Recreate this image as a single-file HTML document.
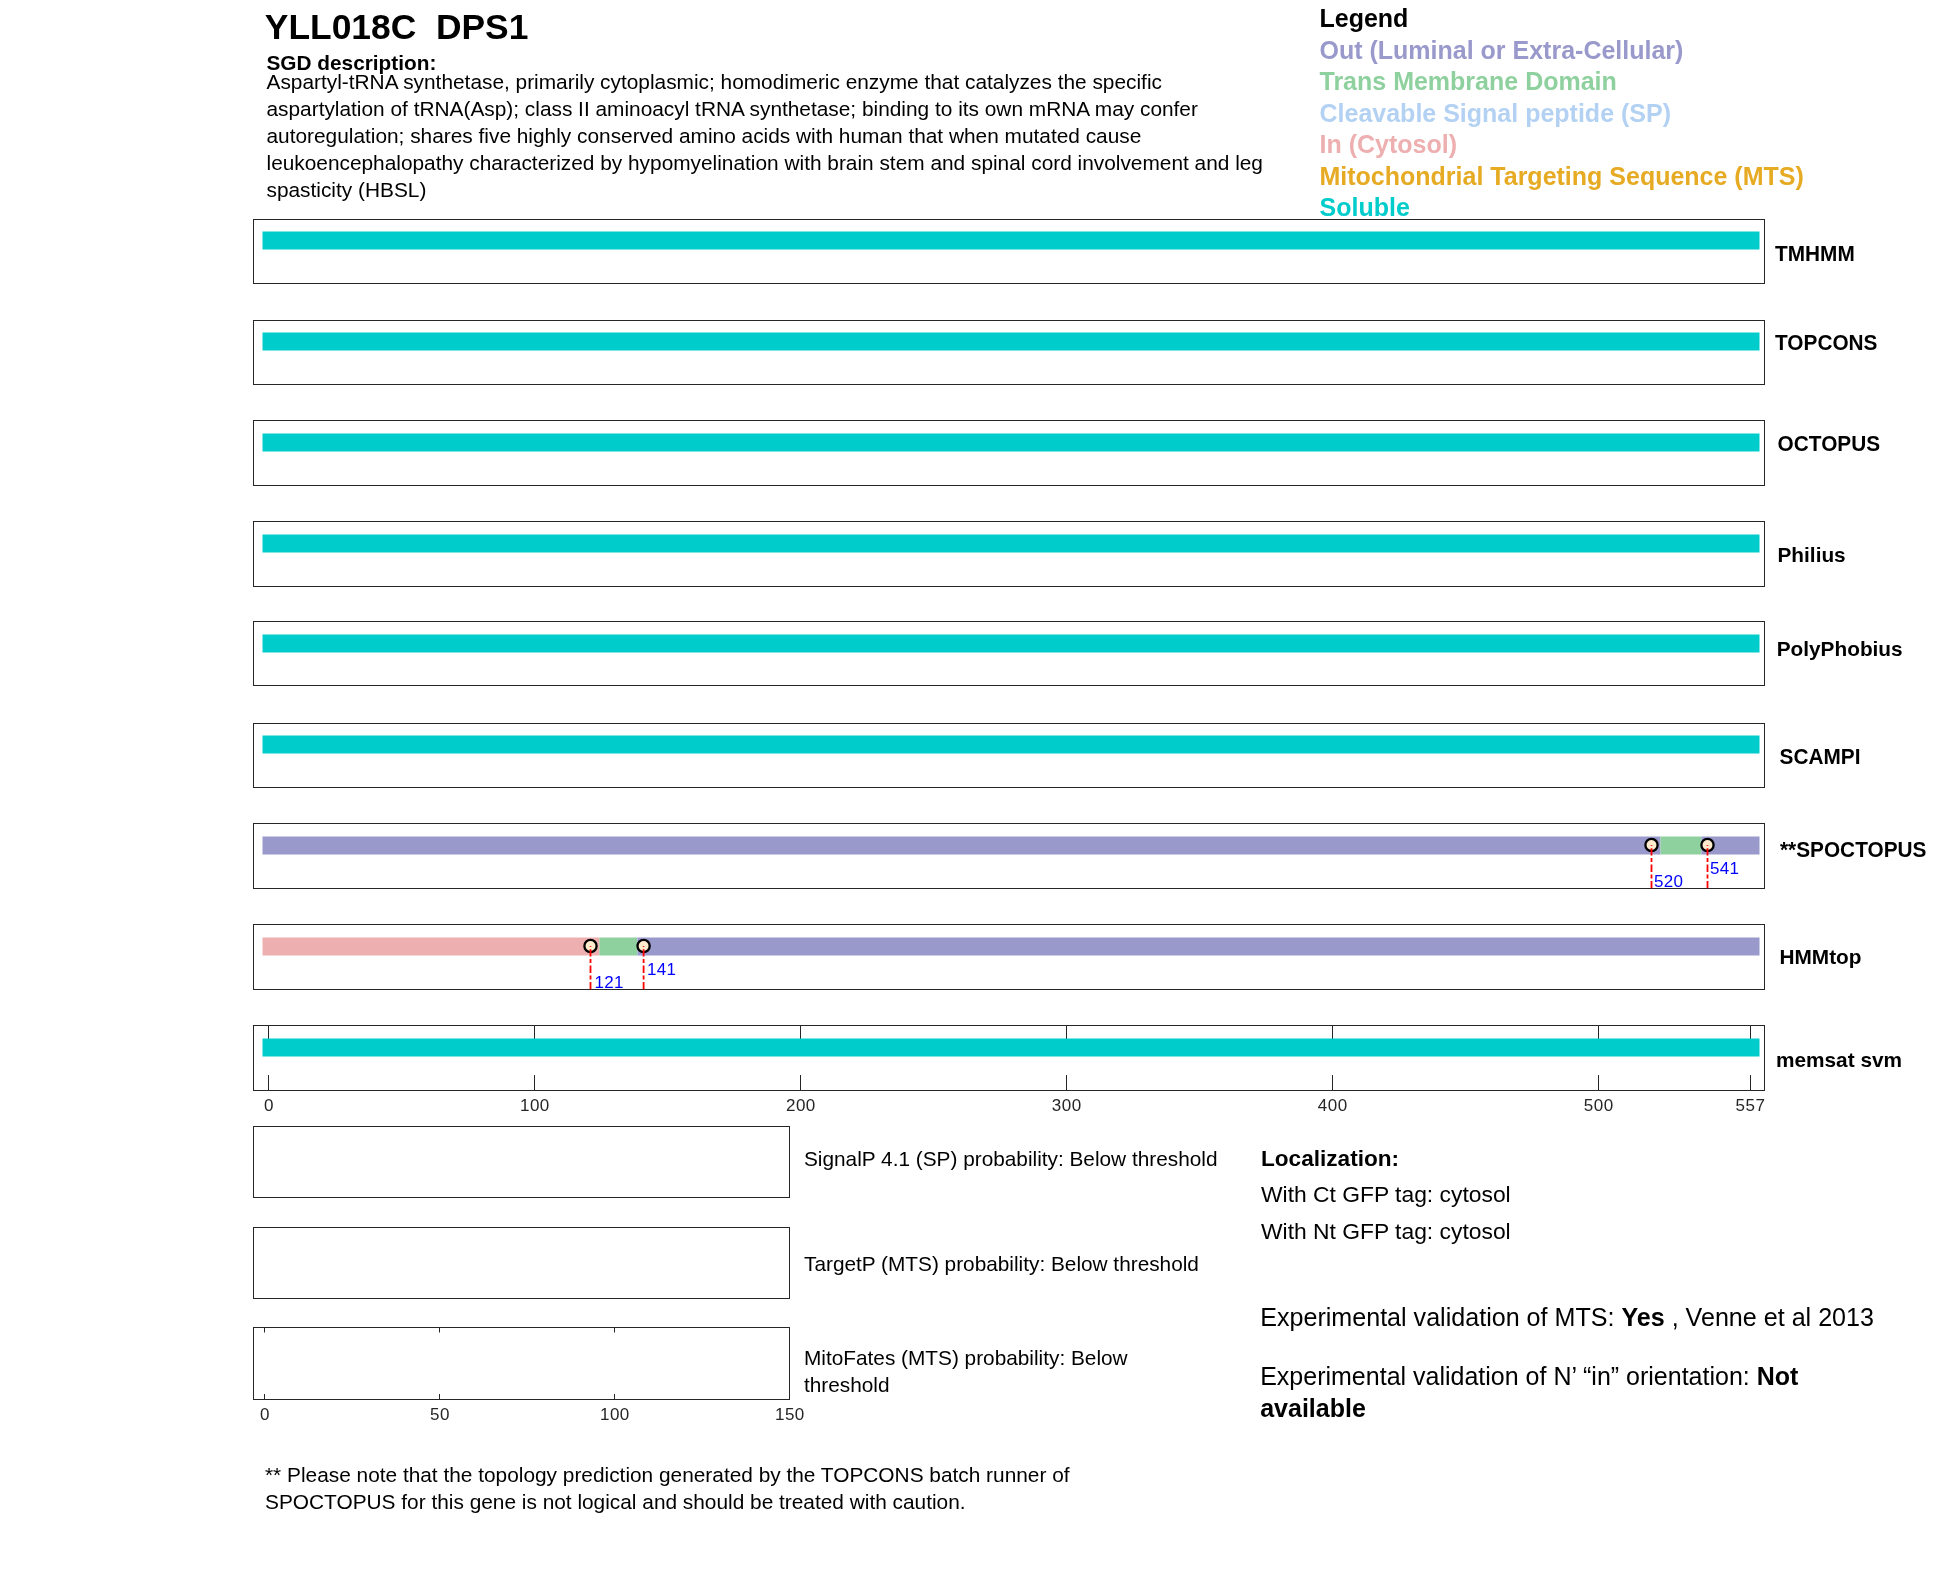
<!DOCTYPE html>
<html><head><meta charset="utf-8"><style>
html,body{margin:0;padding:0;background:#fff;width:1950px;height:1573px;overflow:hidden}
svg{display:block;will-change:transform;font-family:"Liberation Sans",sans-serif}
.b{font-weight:bold}
</style></head><body>
<svg width="1950" height="1573" viewBox="0 0 1950 1573">
<text x="264.8" y="39" font-size="35.4" fill="#000" font-weight="bold">YLL018C&#160;&#160;DPS1</text>
<text x="266.5" y="69.5" font-size="20.8" fill="#000" font-weight="bold">SGD description:</text>
<text x="266.5" y="88.6" font-size="20.85" fill="#000">Aspartyl-tRNA synthetase, primarily cytoplasmic; homodimeric enzyme that catalyzes the specific</text>
<text x="266.5" y="115.6" font-size="20.85" fill="#000">aspartylation of tRNA(Asp); class II aminoacyl tRNA synthetase; binding to its own mRNA may confer</text>
<text x="266.5" y="142.6" font-size="20.85" fill="#000">autoregulation; shares five highly conserved amino acids with human that when mutated cause</text>
<text x="266.5" y="169.6" font-size="20.85" fill="#000">leukoencephalopathy characterized by hypomyelination with brain stem and spinal cord involvement and leg</text>
<text x="266.5" y="196.6" font-size="20.85" fill="#000">spasticity (HBSL)</text>
<text x="1319.5" y="27.2" font-size="25" fill="#000000" font-weight="bold">Legend</text>
<text x="1319.5" y="58.7" font-size="25" fill="#9999CC" font-weight="bold">Out (Luminal or Extra-Cellular)</text>
<text x="1319.5" y="90.2" font-size="25" fill="#8FD19E" font-weight="bold">Trans Membrane Domain</text>
<text x="1319.5" y="121.7" font-size="25" fill="#B3D1F2" font-weight="bold">Cleavable Signal peptide (SP)</text>
<text x="1319.5" y="153.2" font-size="25" fill="#EDAFAF" font-weight="bold">In (Cytosol)</text>
<text x="1319.5" y="184.7" font-size="25" fill="#E6AA23" font-weight="bold">Mitochondrial Targeting Sequence (MTS)</text>
<text x="1319.5" y="216.2" font-size="25" fill="#00CCCC" font-weight="bold">Soluble</text>
<rect x="262.5" y="231.5" width="1497.0" height="18.0" fill="#00CCCC"/>
<rect x="253.5" y="219.5" width="1511" height="64" fill="none" stroke="#262626" stroke-width="1"/>
<text transform="matrix(1 0 0 1.04 1775 261)" font-size="20.8" fill="#000" font-weight="bold">TMHMM</text>
<rect x="262.5" y="332.5" width="1497.0" height="18.0" fill="#00CCCC"/>
<rect x="253.5" y="320.5" width="1511" height="64" fill="none" stroke="#262626" stroke-width="1"/>
<text transform="matrix(1 0 0 1.04 1775 350)" font-size="20.8" fill="#000" font-weight="bold">TOPCONS</text>
<rect x="262.5" y="433.5" width="1497.0" height="18.0" fill="#00CCCC"/>
<rect x="253.5" y="420.5" width="1511" height="65" fill="none" stroke="#262626" stroke-width="1"/>
<text transform="matrix(1 0 0 1.04 1777.6 451.1)" font-size="20.8" fill="#000" font-weight="bold">OCTOPUS</text>
<rect x="262.5" y="534.5" width="1497.0" height="18.0" fill="#00CCCC"/>
<rect x="253.5" y="521.5" width="1511" height="65" fill="none" stroke="#262626" stroke-width="1"/>
<text x="1777.5" y="561.8" font-size="20.8" fill="#000" font-weight="bold">Philius</text>
<rect x="262.5" y="634.5" width="1497.0" height="18.0" fill="#00CCCC"/>
<rect x="253.5" y="621.5" width="1511" height="64" fill="none" stroke="#262626" stroke-width="1"/>
<text x="1776.7" y="655.5" font-size="20.8" fill="#000" font-weight="bold">PolyPhobius</text>
<rect x="262.5" y="735.5" width="1497.0" height="18.0" fill="#00CCCC"/>
<rect x="253.5" y="723.5" width="1511" height="64" fill="none" stroke="#262626" stroke-width="1"/>
<text transform="matrix(1 0 0 1.04 1779.6 764)" font-size="20.8" fill="#000" font-weight="bold">SCAMPI</text>
<rect x="262.5" y="836.5" width="1398.0" height="18.0" fill="#9999CC"/>
<rect x="1660.5" y="836.5" width="40.9" height="18.0" fill="#8FD19E"/>
<rect x="1701.4" y="836.5" width="58.1" height="18.0" fill="#9999CC"/>
<rect x="253.5" y="823.5" width="1511" height="65" fill="none" stroke="#262626" stroke-width="1"/>
<text transform="matrix(1 0 0 1.04 1780 856.8)" font-size="20.8" fill="#000" font-weight="bold">**SPOCTOPUS</text>
<rect x="262.5" y="937.5" width="336.9" height="18.0" fill="#EDAFAF"/>
<rect x="599.4" y="937.5" width="37.9" height="18.0" fill="#8FD19E"/>
<rect x="637.4" y="937.5" width="1122.1" height="18.0" fill="#9999CC"/>
<rect x="253.5" y="924.5" width="1511" height="65" fill="none" stroke="#262626" stroke-width="1"/>
<text x="1779.5" y="963.6" font-size="20.8" fill="#000" font-weight="bold">HMMtop</text>
<line x1="268.5" y1="1025" x2="268.5" y2="1040" stroke="#262626" stroke-width="1"/>
<line x1="268.5" y1="1091" x2="268.5" y2="1075" stroke="#262626" stroke-width="1"/>
<line x1="534.5" y1="1025" x2="534.5" y2="1040" stroke="#262626" stroke-width="1"/>
<line x1="534.5" y1="1091" x2="534.5" y2="1075" stroke="#262626" stroke-width="1"/>
<line x1="800.5" y1="1025" x2="800.5" y2="1040" stroke="#262626" stroke-width="1"/>
<line x1="800.5" y1="1091" x2="800.5" y2="1075" stroke="#262626" stroke-width="1"/>
<line x1="1066.5" y1="1025" x2="1066.5" y2="1040" stroke="#262626" stroke-width="1"/>
<line x1="1066.5" y1="1091" x2="1066.5" y2="1075" stroke="#262626" stroke-width="1"/>
<line x1="1332.5" y1="1025" x2="1332.5" y2="1040" stroke="#262626" stroke-width="1"/>
<line x1="1332.5" y1="1091" x2="1332.5" y2="1075" stroke="#262626" stroke-width="1"/>
<line x1="1598.5" y1="1025" x2="1598.5" y2="1040" stroke="#262626" stroke-width="1"/>
<line x1="1598.5" y1="1091" x2="1598.5" y2="1075" stroke="#262626" stroke-width="1"/>
<line x1="1750.5" y1="1025" x2="1750.5" y2="1040" stroke="#262626" stroke-width="1"/>
<line x1="1750.5" y1="1091" x2="1750.5" y2="1075" stroke="#262626" stroke-width="1"/>
<rect x="262.5" y="1038.5" width="1497.0" height="18.0" fill="#00CCCC"/>
<rect x="253.5" y="1025.5" width="1511" height="65" fill="none" stroke="#262626" stroke-width="1"/>
<text x="1776" y="1067.1" font-size="20.8" fill="#000" font-weight="bold">memsat svm</text>
<circle cx="1651.5" cy="845.0" r="6.1" fill="#FFEBCD" stroke="#000" stroke-width="2.3"/>
<line x1="1651.5" y1="888.3" x2="1651.5" y2="845.0999999999999" stroke="#FF0000" stroke-width="1.8" stroke-dasharray="7.3 2.5 4 2.6"/>
<text x="1654" y="886.8" font-size="17" fill="#0000FF" letter-spacing="0.3">520</text>
<circle cx="1707.5" cy="845.0" r="6.1" fill="#FFEBCD" stroke="#000" stroke-width="2.3"/>
<line x1="1707.5" y1="888.3" x2="1707.5" y2="845.0999999999999" stroke="#FF0000" stroke-width="1.8" stroke-dasharray="7.3 2.5 4 2.6"/>
<text x="1710" y="873.8" font-size="17" fill="#0000FF" letter-spacing="0.3">541</text>
<circle cx="590.5" cy="946.0" r="6.1" fill="#FFEBCD" stroke="#000" stroke-width="2.3"/>
<line x1="590.5" y1="989.3" x2="590.5" y2="946.0999999999999" stroke="#FF0000" stroke-width="1.8" stroke-dasharray="7.3 2.5 4 2.6"/>
<text x="594.5" y="987.5" font-size="17" fill="#0000FF" letter-spacing="0.3">121</text>
<circle cx="643.6" cy="946.0" r="6.1" fill="#FFEBCD" stroke="#000" stroke-width="2.3"/>
<line x1="643.6" y1="989.3" x2="643.6" y2="946.0999999999999" stroke="#FF0000" stroke-width="1.8" stroke-dasharray="7.3 2.5 4 2.6"/>
<text x="647" y="974.6" font-size="17" fill="#0000FF" letter-spacing="0.3">141</text>
<text x="268.9" y="1111" font-size="17" fill="#262626" text-anchor="middle" letter-spacing="0.5">0</text>
<text x="534.9" y="1111" font-size="17" fill="#262626" text-anchor="middle" letter-spacing="0.5">100</text>
<text x="800.9" y="1111" font-size="17" fill="#262626" text-anchor="middle" letter-spacing="0.5">200</text>
<text x="1066.8" y="1111" font-size="17" fill="#262626" text-anchor="middle" letter-spacing="0.5">300</text>
<text x="1332.8" y="1111" font-size="17" fill="#262626" text-anchor="middle" letter-spacing="0.5">400</text>
<text x="1598.8" y="1111" font-size="17" fill="#262626" text-anchor="middle" letter-spacing="0.5">500</text>
<text x="1750.5" y="1111" font-size="17" fill="#262626" text-anchor="middle" letter-spacing="0.5">557</text>
<rect x="253.5" y="1126.5" width="536" height="71" fill="none" stroke="#262626" stroke-width="1"/>
<rect x="253.5" y="1227.5" width="536" height="71" fill="none" stroke="#262626" stroke-width="1"/>
<rect x="253.5" y="1327.5" width="536" height="72" fill="none" stroke="#262626" stroke-width="1"/>
<line x1="264.5" y1="1327" x2="264.5" y2="1332.5" stroke="#262626" stroke-width="1"/>
<line x1="264.5" y1="1400" x2="264.5" y2="1394" stroke="#262626" stroke-width="1"/>
<text x="264.9" y="1419.5" font-size="17" fill="#262626" text-anchor="middle" letter-spacing="0.5">0</text>
<line x1="439.5" y1="1327" x2="439.5" y2="1332.5" stroke="#262626" stroke-width="1"/>
<line x1="439.5" y1="1400" x2="439.5" y2="1394" stroke="#262626" stroke-width="1"/>
<text x="439.9" y="1419.5" font-size="17" fill="#262626" text-anchor="middle" letter-spacing="0.5">50</text>
<line x1="614.5" y1="1327" x2="614.5" y2="1332.5" stroke="#262626" stroke-width="1"/>
<line x1="614.5" y1="1400" x2="614.5" y2="1394" stroke="#262626" stroke-width="1"/>
<text x="614.9" y="1419.5" font-size="17" fill="#262626" text-anchor="middle" letter-spacing="0.5">100</text>
<line x1="789.5" y1="1327" x2="789.5" y2="1332.5" stroke="#262626" stroke-width="1"/>
<line x1="789.5" y1="1400" x2="789.5" y2="1394" stroke="#262626" stroke-width="1"/>
<text x="789.9" y="1419.5" font-size="17" fill="#262626" text-anchor="middle" letter-spacing="0.5">150</text>
<text x="804" y="1165.8" font-size="20.8" fill="#000">SignalP 4.1 (SP) probability: Below threshold</text>
<text x="804" y="1270.8" font-size="20.8" fill="#000">TargetP (MTS) probability: Below threshold</text>
<text x="804" y="1365.4" font-size="20.8" fill="#000">MitoFates (MTS) probability: Below</text>
<text x="804" y="1391.9" font-size="20.8" fill="#000">threshold</text>
<text x="1261" y="1165.6" font-size="22.6" fill="#000" font-weight="bold">Localization:</text>
<text x="1261" y="1201.6" font-size="22.85" fill="#000">With Ct GFP tag: cytosol</text>
<text x="1261" y="1238.6" font-size="22.85" fill="#000">With Nt GFP tag: cytosol</text>
<text x="1260.2" y="1325.6" font-size="25.1" fill="#000">Experimental validation of MTS: <tspan font-weight="bold">Yes</tspan> , Venne et al 2013</text>
<text x="1260.2" y="1385" font-size="25" fill="#000">Experimental validation of N’ “in” orientation: <tspan font-weight="bold">Not</tspan></text>
<text x="1260.2" y="1416.8" font-size="25" fill="#000" font-weight="bold">available</text>
<text x="265" y="1482" font-size="20.85" fill="#000">** Please note that the topology prediction generated by the TOPCONS batch runner of</text>
<text x="265" y="1508.6" font-size="20.85" fill="#000">SPOCTOPUS for this gene is not logical and should be treated with caution.</text>
</svg>
</body></html>
